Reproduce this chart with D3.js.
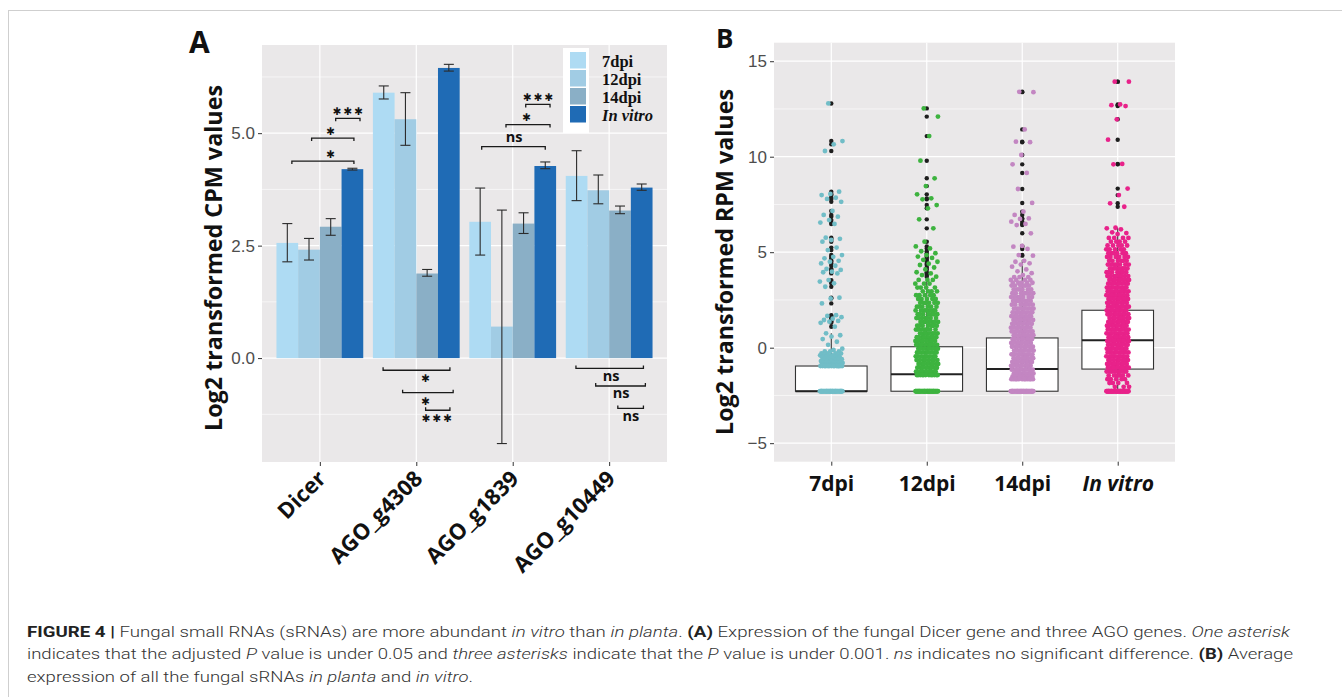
<!DOCTYPE html>
<html><head><meta charset="utf-8">
<script src="https://cdn.jsdelivr.net/npm/d3@7"></script>
<style>body{margin:0;background:#fff;} svg{display:block;}</style>
</head><body>
<svg id="fig" width="1342" height="697"></svg>
<script>
// ================= Panel A data =================
const genes = ["Dicer", "AGO_g4308", "AGO_g1839", "AGO_g10449"];
const conditions = ["7dpi", "12dpi", "14dpi", "In vitro"];
const mean7dpi  = [2.56, 5.90, 3.03, 4.05];
const mean12dpi = [2.41, 5.31, 0.70, 3.73];
const mean14dpi = [2.92, 1.88, 2.99, 3.28];
const meanInVitro = [4.20, 6.45, 4.27, 3.79];
const low7dpi  = [2.14, 5.76, 2.29, 3.50];
const high7dpi = [2.99, 6.05, 3.78, 4.61];
const low12dpi  = [2.18, 4.73, -1.90, 3.43];
const high12dpi = [2.66, 5.90, 3.29, 4.07];
const low14dpi  = [2.73, 1.82, 2.77, 3.21];
const high14dpi = [3.10, 1.97, 3.23, 3.38];
const lowInVitro  = [4.18, 6.38, 4.21, 3.73];
const highInVitro = [4.22, 6.53, 4.36, 3.87];
const yTicksA = [0, 2.5, 5];
const yTickLabelsA = ["0.0", "2.5", "5.0"];
// significance brackets: gene index, from/to bar index, y value, label, label bar index, below axis?
const sigGene  = [0, 0, 0, 1, 1, 1, 2, 2, 2, 3, 3, 3];
const sigFrom  = [2.23, 1.12, 0.21, -0.03, 0.87, 1.93, 2.10, 1.19, 0.07, -0.03, 0.88, 1.90];
const sigTo    = [3.35, 3.07, 3.07, 3.05, 3.20, 3.05, 3.22, 3.22, 3.00, 3.08, 3.17, 3.08];
const sigY     = [5.33, 4.89, 4.38, -0.27, -0.77, -1.16, 5.64, 5.19, 4.70, -0.23, -0.62, -1.12];
const sigLabel = ["***", "*", "*", "*", "*", "***", "***", "*", "ns", "ns", "ns", "ns"];
const sigLabelAt = [2.79, 2.0, 2.0, 1.93, 1.93, 2.45, 2.67, 2.14, 1.56, 1.59, 2.05, 2.50];
const sigBelow = [false, false, false, true, true, true, false, false, false, true, true, true];

// ================= Panel B data =================
const groupsB = ["7dpi", "12dpi", "14dpi", "In vitro"];
const yTicksB = [-5, 0, 5, 10, 15];
const boxQ1  = [-2.28, -2.28, -2.28, -1.12];
const boxMed = [-2.28, -1.39, -1.12, 0.39];
const boxQ3  = [-0.96, 0.05, 0.51, 1.96];
const boxLow = [-2.28, -2.28, -2.28, -2.28];
const boxHigh = [0.75, 3.55, 4.60, 6.28];
const floorValue = -2.28;
const floorCount = [40, 40, 40, 40];
// individually read values (sparse part of each column)
const sparse7dpi = [12.79, 10.82, 10.65, 10.30, 8.17, 8.05, 7.99, 7.85, 7.79, 7.64, 7.16, 6.95, 6.86, 6.68, 6.55, 6.48,
  5.76, 5.70, 5.64, 5.55, 5.24, 5.11, 4.85, 4.76, 4.68, 4.55, 4.50, 4.41, 4.29, 4.12, 4.07, 3.98, 3.95, 3.89,
  3.54, 3.46, 3.37, 3.19, 2.62, 2.58, 2.32, 1.70, 1.66, 1.60, 1.52, 1.45, 1.40, 1.36, 1.30, 1.10,
  0.75, 0.65, 0.58, 0.45, 0.31, 0.15, -0.05, -0.12];
const sparse12dpi = [12.53, 12.10, 11.08, 9.79, 8.87, 8.46, 8.03, 7.82, 7.77, 7.47, 7.30, 6.72, 6.25, 5.55, 5.30,
  5.20, 5.05, 4.95, 4.85, 4.77, 4.70, 4.60, 4.50, 4.40, 4.33, 4.20, 4.10, 3.95, 3.89, 3.80, 3.72];
const sparse14dpi = [13.40, 13.38, 11.43, 10.79, 10.76, 10.09, 9.60, 9.15, 8.31, 7.58, 7.12, 6.95, 6.77, 6.74, 6.60,
  6.48, 6.42, 5.99, 5.33, 5.29, 5.17, 4.85, 4.82, 4.55, 4.50, 4.42, 4.35, 4.24, 4.10, 4.00, 3.90, 3.80];
const sparseInVitro = [13.93, 13.93, 12.74, 12.70, 12.65, 11.96, 10.89, 9.62, 9.60, 8.33, 7.99, 7.56, 7.38,
  6.28, 6.25, 6.20, 6.04, 6.00, 5.95];
// dense part of each column: value levels and how many sRNAs sit at each level
const dense7dpiLevels = [-0.20, -0.30, -0.40, -0.50, -0.60, -0.70, -0.80, -0.90, -0.96];
const dense7dpiCounts = [3, 4, 5, 5, 6, 6, 7, 7, 14];
const dense12dpiLevels = [3.55, 3.35, 3.15, 2.95, 2.75, 2.55, 2.35, 2.15, 1.95, 1.75, 1.55, 1.35, 1.15, 0.95, 0.75,
  0.55, 0.35, 0.15, -0.05, -0.25, -0.45, -0.65, -0.85, -1.05, -1.25, -1.43];
const dense12dpiCounts = [3, 3, 4, 4, 5, 5, 6, 6, 7, 7, 7, 7, 7, 7, 7, 8, 8, 8, 8, 8, 8, 8, 8, 8, 9, 12];
const dense14dpiLevels = [3.70, 3.55, 3.40, 3.25, 3.05, 2.85, 2.65, 2.45, 2.25, 2.05, 1.85, 1.65, 1.45, 1.25, 1.05,
  0.85, 0.65, 0.45, 0.25, 0.05, -0.15, -0.35, -0.55, -0.75, -0.95, -1.15, -1.35, -1.50, -1.65];
const dense14dpiCounts = [3, 4, 5, 6, 6, 7, 7, 7, 7, 8, 8, 8, 8, 8, 8, 8, 8, 9, 9, 9, 9, 9, 9, 9, 9, 9, 9, 9, 12];
const denseInVitroLevels = [5.75, 5.55, 5.35, 5.15, 4.95, 4.75, 4.55, 4.35, 4.15, 3.95, 3.75, 3.55, 3.35, 3.15, 2.95,
  2.75, 2.55, 2.35, 2.15, 1.95, 1.75, 1.55, 1.35, 1.15, 0.95, 0.75, 0.55, 0.35, 0.15, -0.05, -0.25, -0.45, -0.65,
  -0.85, -1.05, -1.25, -1.45, -1.65, -1.85, -2.05];
const denseInVitroCounts = [4, 4, 5, 5, 6, 6, 6, 7, 7, 7, 8, 8, 8, 9, 9, 9, 9, 9, 9, 9, 9, 9, 9, 9, 9, 9, 9, 9, 9, 9,
  9, 9, 9, 9, 9, 8, 6, 5, 4, 3];

// ================= drawing =================
const svg = d3.select("#fig");
const BG = "#EAE8E9";
const barColors = ["#AEDBF3", "#A1CCE4", "#8AAFC6", "#1F6BB5"];
const pointColors = ["#71BDC7", "#3DB33F", "#C386C2", "#E8228A"];
const bold = "'Open Sans', 'DejaVu Sans', sans-serif";

// frame
svg.append("line").attr("x1", 8).attr("y1", 10.5).attr("x2", 1342).attr("y2", 10.5).attr("stroke", "#cfcfcf");
svg.append("line").attr("x1", 8.5).attr("y1", 10).attr("x2", 8.5).attr("y2", 697).attr("stroke", "#cfcfcf");

// ---------- Panel A ----------
const A = {left: 262, right: 667, top: 45, bottom: 462};
const xA = d3.scaleLinear().domain([0.4, 4.6]).range([A.left, A.right]);
const yA = d3.scaleLinear().domain([-2.31, 6.96]).range([A.bottom, A.top]);
const gA = svg.append("g");
gA.append("rect").attr("x", A.left).attr("y", A.top).attr("width", A.right - A.left).attr("height", A.bottom - A.top).attr("fill", BG);
const minorA = [-1.25, 1.25, 3.75, 6.25];
gA.selectAll(".mnA").data(minorA).join("line").attr("x1", A.left).attr("x2", A.right)
  .attr("y1", d => yA(d)).attr("y2", d => yA(d)).attr("stroke", "#fff").attr("stroke-width", 0.6);
gA.selectAll(".mjA").data(yTicksA).join("line").attr("x1", A.left).attr("x2", A.right)
  .attr("y1", d => yA(d)).attr("y2", d => yA(d)).attr("stroke", "#fff").attr("stroke-width", 1.2);
gA.selectAll(".vxA").data(genes).join("line").attr("y1", A.top).attr("y2", A.bottom)
  .attr("x1", (d, i) => xA(i + 1)).attr("x2", (d, i) => xA(i + 1)).attr("stroke", "#fff").attr("stroke-width", 1.2);

const means = [mean7dpi, mean12dpi, mean14dpi, meanInVitro];
const lows = [low7dpi, low12dpi, low14dpi, lowInVitro];
const highs = [high7dpi, high12dpi, high14dpi, highInVitro];
const barRows = [];
genes.forEach((g, gi) => conditions.forEach((c, ci) => barRows.push({gi, ci, v: means[ci][gi], lo: lows[ci][gi], hi: highs[ci][gi]})));
const barW = 0.225;
const barPos = (gi, f) => gi + 1 - 0.45 + barW * (f + 0.5);
gA.selectAll(".bar").data(barRows).join("rect")
  .attr("x", d => xA(barPos(d.gi, d.ci) - barW / 2))
  .attr("width", xA(barW) - xA(0))
  .attr("y", d => yA(Math.max(0, d.v)))
  .attr("height", d => Math.abs(yA(d.v) - yA(0)))
  .attr("fill", d => barColors[d.ci]);
const capHalf = 0.052;
const eb = gA.selectAll(".eb").data(barRows).join("g").attr("stroke", "#2b2b2b").attr("stroke-width", 1.1);
eb.append("line").attr("x1", d => xA(barPos(d.gi, d.ci))).attr("x2", d => xA(barPos(d.gi, d.ci)))
  .attr("y1", d => yA(d.lo)).attr("y2", d => yA(d.hi));
eb.append("line").attr("x1", d => xA(barPos(d.gi, d.ci) - capHalf)).attr("x2", d => xA(barPos(d.gi, d.ci) + capHalf))
  .attr("y1", d => yA(d.lo)).attr("y2", d => yA(d.lo));
eb.append("line").attr("x1", d => xA(barPos(d.gi, d.ci) - capHalf)).attr("x2", d => xA(barPos(d.gi, d.ci) + capHalf))
  .attr("y1", d => yA(d.hi)).attr("y2", d => yA(d.hi));

// brackets
sigGene.forEach((gi, k) => {
  const x1 = xA(barPos(gi, sigFrom[k])), x2 = xA(barPos(gi, sigTo[k])), y = yA(sigY[k]);
  const t = sigBelow[k] ? -3 : 3;
  gA.append("path").attr("d", `M${x1},${y + t}V${y}H${x2}V${y + t}`)
    .attr("fill", "none").attr("stroke", "#1a1a1a").attr("stroke-width", 1.3);
  const isStar = sigLabel[k].includes("*");
  const tx = xA(barPos(gi, sigLabelAt[k]));
  const cy = sigBelow[k] ? y + 8.2 : y - (isStar ? 7.3 : 8.7);   // label centre
  const txt = gA.append("text").attr("x", tx + (isStar ? 1 : 0)).attr("text-anchor", "middle").attr("fill", "#111");
  if (isStar) {
    txt.attr("y", cy + 3.9).attr("font-family", "'DejaVu Sans', sans-serif").attr("font-weight", 700)
      .attr("font-size", 10.5).attr("letter-spacing", 2).text(sigLabel[k].replace(/\*/g, "\u2731"));
  } else {
    txt.attr("y", cy + 4.2).attr("font-family", bold).attr("font-weight", 700).attr("font-size", 14.5).text(sigLabel[k]);
  }
});

// legend
const leg = gA.append("g");
leg.append("rect").attr("x", 563).attr("y", 48).attr("width", 26).attr("height", 85).attr("fill", "#fff");
conditions.forEach((c, i) => {
  leg.append("rect").attr("x", 570).attr("y", 52 + i * 18).attr("width", 16).attr("height", 16.5).attr("fill", barColors[i]);
  leg.append("text").attr("x", 602).attr("y", 67 + i * 18)
    .attr("font-family", "'Liberation Serif', 'DejaVu Serif', serif").attr("font-weight", 700)
    .attr("font-style", i === 3 ? "italic" : "normal").attr("font-size", 16.5).attr("fill", "#111").text(c);
});

// axes A
const axYA = svg.append("g").attr("transform", `translate(${A.left},0)`)
  .call(d3.axisLeft(yA).tickValues(yTicksA).tickFormat((d, i) => yTickLabelsA[i]).tickSize(4).tickPadding(3));
axYA.select(".domain").remove();
axYA.selectAll("line").attr("stroke", "#333");
axYA.selectAll("text").attr("font-family", "'Liberation Sans', Arial, sans-serif").attr("font-size", 17).attr("fill", "#4d4d4d");
const axXA = svg.append("g").attr("transform", `translate(0,${A.bottom})`)
  .call(d3.axisBottom(xA).tickValues([1, 2, 3, 4]).tickFormat(d => genes[d - 1]).tickSize(4));
axXA.select(".domain").remove();
axXA.selectAll("line").attr("stroke", "#333");
axXA.selectAll("text").attr("font-family", bold).attr("font-weight", 700).attr("font-size", 22).attr("fill", "#111")
  .attr("text-anchor", "end").attr("y", 0).attr("dy", 0)
  .attr("transform", "translate(7,18) rotate(-45)");

svg.append("text").attr("transform", "translate(222,258) rotate(-90)").attr("text-anchor", "middle")
  .attr("font-family", bold).attr("font-weight", 700).attr("font-size", 24).attr("fill", "#111")
  .attr("textLength", 346).attr("lengthAdjust", "spacingAndGlyphs").text("Log2 transformed CPM values");
svg.append("text").attr("x", 189).attr("y", 53).attr("font-family", bold).attr("font-weight", 700)
  .attr("font-size", 30).attr("fill", "#111").text("A");

// ---------- Panel B ----------
const B = {left: 774, right: 1175, top: 42.7, bottom: 461.7};
const xB = d3.scaleLinear().domain([0.4, 4.6]).range([B.left, B.right]);
const yB = d3.scaleLinear().domain([-5.97, 15.97]).range([B.bottom, B.top]);
const gB = svg.append("g");
gB.append("rect").attr("x", B.left).attr("y", B.top).attr("width", B.right - B.left).attr("height", B.bottom - B.top).attr("fill", BG);
gB.selectAll(".mnB").data([-2.5, 2.5, 7.5, 12.5]).join("line").attr("x1", B.left).attr("x2", B.right)
  .attr("y1", d => yB(d)).attr("y2", d => yB(d)).attr("stroke", "#fff").attr("stroke-width", 0.6);
gB.selectAll(".mjB").data(yTicksB).join("line").attr("x1", B.left).attr("x2", B.right)
  .attr("y1", d => yB(d)).attr("y2", d => yB(d)).attr("stroke", "#fff").attr("stroke-width", 1.2);
gB.selectAll(".vxB").data(groupsB).join("line").attr("y1", B.top).attr("y2", B.bottom)
  .attr("x1", (d, i) => xB(i + 1)).attr("x2", (d, i) => xB(i + 1)).attr("stroke", "#fff").attr("stroke-width", 1.2);

// boxes
const boxHalf = 0.375;
groupsB.forEach((g, i) => {
  const cx = xB(i + 1);
  gB.append("line").attr("x1", cx).attr("x2", cx).attr("y1", yB(boxQ3[i])).attr("y2", yB(boxHigh[i])).attr("stroke", "#333").attr("stroke-width", 1.1);
  gB.append("line").attr("x1", cx).attr("x2", cx).attr("y1", yB(boxQ1[i])).attr("y2", yB(boxLow[i])).attr("stroke", "#333").attr("stroke-width", 1.1);
  gB.append("rect").attr("x", xB(i + 1 - boxHalf)).attr("width", xB(i + 1 + boxHalf) - xB(i + 1 - boxHalf))
    .attr("y", yB(boxQ3[i])).attr("height", yB(boxQ1[i]) - yB(boxQ3[i]))
    .attr("fill", "#fff").attr("stroke", "#333").attr("stroke-width", 1.1);
  gB.append("line").attr("x1", xB(i + 1 - boxHalf)).attr("x2", xB(i + 1 + boxHalf))
    .attr("y1", yB(boxMed[i])).attr("y2", yB(boxMed[i])).attr("stroke", "#222").attr("stroke-width", 2);
});

// assemble point values per group
const sparseAll = [sparse7dpi, sparse12dpi, sparse14dpi, sparseInVitro];
const denseLv = [dense7dpiLevels, dense12dpiLevels, dense14dpiLevels, denseInVitroLevels];
const denseCt = [dense7dpiCounts, dense12dpiCounts, dense14dpiCounts, denseInVitroCounts];
const pts = [];
groupsB.forEach((g, i) => {
  const vals = [];
  sparseAll[i].forEach(v => vals.push(v));
  denseLv[i].forEach((lv, j) => { for (let c = 0; c < denseCt[i][j]; c++) vals.push(lv); });
  for (let c = 0; c < floorCount[i]; c++) vals.push(floorValue);
  vals.forEach((v, k) => pts.push({g: i, v, k}));
});
// outliers (boxplot draws them black at the centre)
gB.selectAll(".out").data(pts.filter(d => d.v > boxHigh[d.g])).join("circle")
  .attr("cx", d => xB(d.g + 1)).attr("cy", d => yB(d.v)).attr("r", 2.2).attr("fill", "#1e1e1e");
// jittered points (deterministic spread)
const jitter = k => (((k * 0.6180339887 + 0.37) % 1) * 2 - 1) * 0.12;
gB.selectAll(".pt").data(pts).join("circle")
  .attr("cx", d => xB(d.g + 1 + jitter(d.k))).attr("cy", d => yB(d.v)).attr("r", 2.4)
  .attr("fill", d => pointColors[d.g]);

// axes B
const axYB = svg.append("g").attr("transform", `translate(${B.left},0)`)
  .call(d3.axisLeft(yB).tickValues(yTicksB).tickFormat(d => d < 0 ? "\u2212" + Math.abs(d) : d).tickSize(4).tickPadding(3));
axYB.select(".domain").remove();
axYB.selectAll("line").attr("stroke", "#333");
axYB.selectAll("text").attr("font-family", "'Liberation Sans', Arial, sans-serif").attr("font-size", 17).attr("fill", "#4d4d4d");
const axXB = svg.append("g").attr("transform", `translate(0,${B.bottom})`)
  .call(d3.axisBottom(xB).tickValues([1, 2, 3, 4]).tickFormat(d => groupsB[d - 1]).tickSize(4).tickPadding(10));
axXB.select(".domain").remove();
axXB.selectAll("line").attr("stroke", "#333");
axXB.selectAll("text").attr("font-family", bold).attr("font-weight", 700).attr("font-size", 21).attr("fill", "#111")
  .attr("font-style", d => d === 4 ? "italic" : "normal");

svg.append("text").attr("transform", "translate(733,262) rotate(-90)").attr("text-anchor", "middle")
  .attr("font-family", bold).attr("font-weight", 700).attr("font-size", 24).attr("fill", "#111")
  .attr("textLength", 346).attr("lengthAdjust", "spacingAndGlyphs").text("Log2 transformed RPM values");
svg.append("text").attr("x", 716).attr("y", 48).attr("font-family", bold).attr("font-weight", 700)
  .attr("font-size", 26).attr("fill", "#111").text("B");

// ---------- caption ----------
const capLines = [
  [["FIGURE 4 | ", "b"], ["Fungal small RNAs (sRNAs) are more abundant ", ""], ["in vitro", "i"], [" than ", ""], ["in planta", "i"],
   [". ", ""], ["(A)", "b"], [" Expression of the fungal Dicer gene and three AGO genes. ", ""], ["One asterisk", "i"]],
  [["indicates that the adjusted ", ""], ["P", "i"], [" value is under 0.05 and ", ""], ["three asterisks", "i"],
   [" indicate that the ", ""], ["P", "i"], [" value is under 0.001. ", ""], ["ns", "i"],
   [" indicates no significant difference. ", ""], ["(B)", "b"], [" Average", ""]],
  [["expression of all the fungal sRNAs ", ""], ["in planta", "i"], [" and ", ""], ["in vitro", "i"], [".", ""]]
];
const capBase = [637, 659, 682];
const capEls = capLines.map((line, li) => {
  const t = svg.append("text").attr("x", 27).attr("y", capBase[li])
    .attr("font-family", "Roboto, 'Liberation Sans', sans-serif").attr("font-weight", 300)
    .attr("font-size", 15.5).attr("fill", "#333");
  line.forEach(([s, st]) => {
    const ts = t.append("tspan").text(s);
    if (st === "b") ts.attr("font-weight", 700).attr("fill", "#222");
    if (st === "i") ts.attr("font-style", "italic");
  });
  return t;
});
const targets = [1263, 1266];
const nat = capEls.map(t => t.node().getComputedTextLength());
const scale = targets[1] / nat[1];
capEls[0].attr("textLength", targets[0]).attr("lengthAdjust", "spacingAndGlyphs");
capEls[1].attr("textLength", targets[1]).attr("lengthAdjust", "spacingAndGlyphs");
capEls[2].attr("textLength", nat[2] * scale).attr("lengthAdjust", "spacingAndGlyphs");
</script>
</body></html>
